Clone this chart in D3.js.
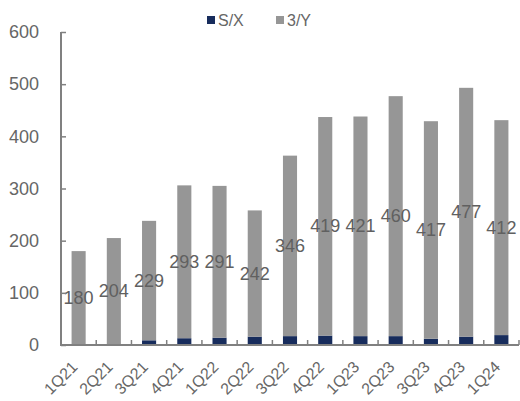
<!DOCTYPE html>
<html>
<head>
<meta charset="utf-8">
<script src="https://cdn.jsdelivr.net/npm/d3@7"></script>
<style>
  html, body { margin: 0; padding: 0; background: #fff; }
  svg { display: block; font-family: "Liberation Sans", Arial, sans-serif; }
</style>
</head>
<body>
<svg id="chart" width="520" height="401"></svg>
<script>
// Quarterly values, stacked: S/X at the bottom, 3/Y on top
const quarters = ["1Q21","2Q21","3Q21","4Q21","1Q22","2Q22","3Q22","4Q22","1Q23","2Q23","3Q23","4Q23","1Q24"];
const sxValues = [0, 1, 9, 13, 14, 16, 17, 18, 17, 17, 12, 16, 19];
const yValues  = [180, 204, 229, 293, 291, 242, 346, 419, 421, 460, 417, 477, 412];
const yTicks   = [0, 100, 200, 300, 400, 500, 600];
const seriesNames = ["S/X", "3/Y"];
const seriesColors = ["#172c5c", "#969696"];

(function () {
  const svg = d3.select("#chart");
  const plotLeft = 61, plotRight = 519, plotTop = 32, plotBottom = 345;

  const x = d3.scaleBand().domain(quarters).range([plotLeft, plotRight])
    .paddingInner(0.6).paddingOuter(0.3);
  const y = d3.scaleLinear().domain([0, 600]).range([plotBottom, plotTop]);

  const rows = quarters.map((q, i) => ({ q, sx: sxValues[i], yv: yValues[i] }));
  const layers = d3.stack().keys(["sx", "yv"])(rows);

  // Bars
  svg.append("g").selectAll("g").data(layers).join("g")
    .attr("fill", (d, i) => seriesColors[i])
    .selectAll("rect").data(d => d).join("rect")
    .attr("x", d => x(d.data.q))
    .attr("width", x.bandwidth())
    .attr("y", d => y(d[1]))
    .attr("height", d => Math.max(0, y(d[0]) - y(d[1])));

  // Value labels for the 3/Y segment, centred in the segment
  svg.append("g").selectAll("text").data(layers[1]).join("text")
    .attr("x", d => x(d.data.q) + x.bandwidth() / 2)
    .attr("y", d => y((d[0] + d[1]) / 2))
    .attr("text-anchor", "middle")
    .attr("dominant-baseline", "central")
    .attr("font-size", 18)
    .attr("fill", "#606060")
    .text(d => d.data.yv);

  // Y axis
  const yAxis = svg.append("g").attr("transform", `translate(${plotLeft},0)`)
    .call(d3.axisLeft(y).tickValues(yTicks).tickSize(-5).tickPadding(22).tickFormat(d3.format("d")));
  yAxis.select(".domain").attr("stroke", "#808080").attr("stroke-width", 2)
    .attr("d", `M0,${plotTop}V${plotBottom}`);
  yAxis.selectAll(".tick line").attr("stroke", "#808080").attr("stroke-width", 1.5);
  yAxis.selectAll(".tick text").attr("font-size", 18).attr("fill", "#666")
    .attr("font-family", "\"Liberation Sans\", Arial, sans-serif");

  // X axis with tick marks at category boundaries
  const xg = svg.append("g").attr("transform", `translate(0,${plotBottom})`);
  xg.append("line").attr("x1", plotLeft - 1).attr("x2", plotRight).attr("y1", 0).attr("y2", 0)
    .attr("stroke", "#808080").attr("stroke-width", 2);
  const step = x.step();
  xg.selectAll("line.tk").data(d3.range(1, quarters.length + 1)).join("line")
    .attr("class", "tk")
    .attr("x1", i => plotLeft + i * step).attr("x2", i => plotLeft + i * step)
    .attr("y1", 0).attr("y2", -5)
    .attr("stroke", "#808080").attr("stroke-width", 1.5);
  xg.selectAll("text").data(quarters).join("text")
    .attr("transform", q => `translate(${x(q) + x.bandwidth() / 2 - 4},19) rotate(-45)`)
    .attr("text-anchor", "end")
    .attr("dominant-baseline", "central")
    .attr("font-size", 16)
    .attr("fill", "#666")
    .text(q => q);

  // Legend
  const legend = svg.append("g");
  const legendPos = [207, 276];
  seriesNames.forEach((name, i) => {
    legend.append("rect").attr("x", legendPos[i]).attr("y", 16).attr("width", 8).attr("height", 8)
      .attr("fill", seriesColors[i]);
    legend.append("text").attr("x", legendPos[i] + 11).attr("y", 20)
      .attr("dominant-baseline", "central").attr("font-size", 16).attr("fill", "#666")
      .text(name);
  });
})();
</script>
</body>
</html>
